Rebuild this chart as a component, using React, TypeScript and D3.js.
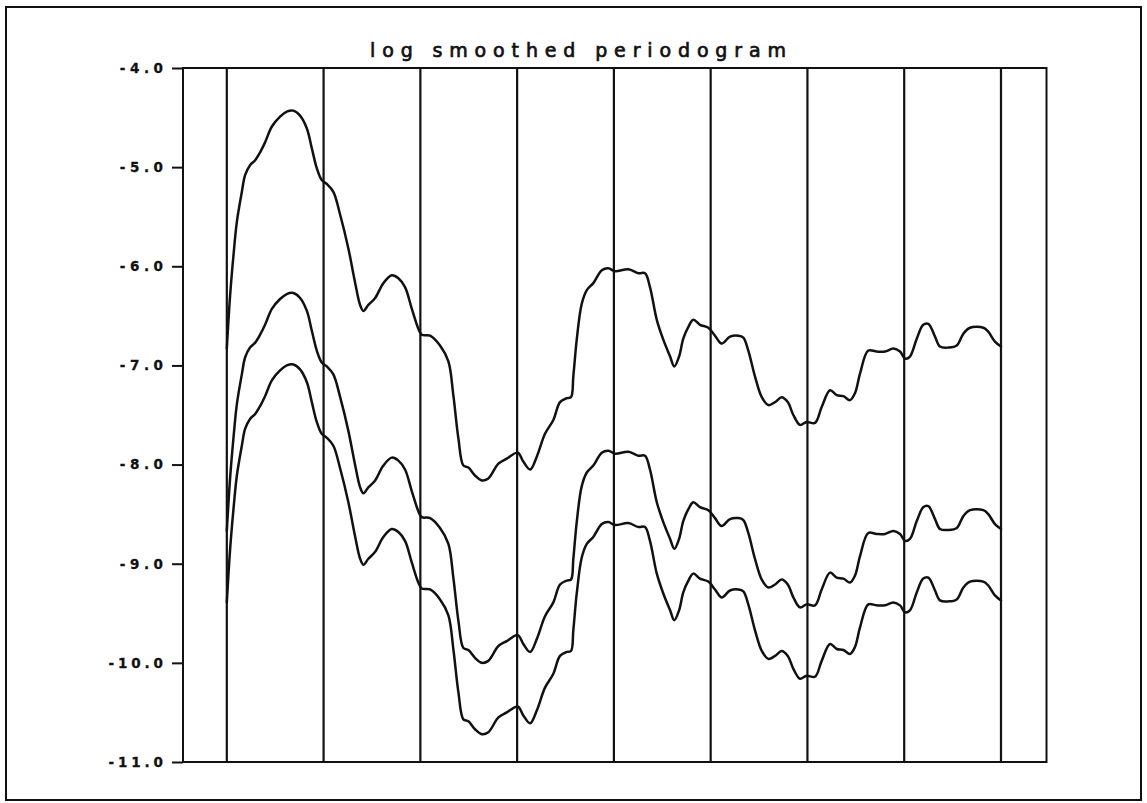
import React, { useEffect, useRef } from "react";
import * as d3 from "d3";

const WIDTH = 1147;
const HEIGHT = 803;

const title = "log smoothed periodogram";

// Frequency (cycles per sample)
const freq = [
  0.0, 0.0021, 0.0043, 0.0065, 0.0097, 0.0118, 0.015, 0.0183, 0.0215, 0.0247,
  0.0291, 0.0344, 0.0387, 0.043, 0.0473, 0.0517, 0.0549, 0.0581, 0.0613, 0.0646,
  0.0688, 0.0732, 0.0785, 0.0828, 0.0861, 0.0882, 0.0914, 0.0958, 0.1011, 0.1065,
  0.1108, 0.1151, 0.1195, 0.1237, 0.1259, 0.1313, 0.1377, 0.1431, 0.1463, 0.1496,
  0.1528, 0.156, 0.1603, 0.1647, 0.1689, 0.1754, 0.1808, 0.1879, 0.1915, 0.1959,
  0.2002, 0.2055, 0.2109, 0.2152, 0.2196, 0.2223, 0.2238, 0.226, 0.2292, 0.2325,
  0.2367, 0.2422, 0.2464, 0.2507, 0.2593, 0.2658, 0.2701, 0.2733, 0.2777, 0.2819,
  0.2863, 0.289, 0.2921, 0.2948, 0.2981, 0.3013, 0.3056, 0.311, 0.3153, 0.3196,
  0.325, 0.3304, 0.3336, 0.3368, 0.3411, 0.3455, 0.3497, 0.3541, 0.3584, 0.3623,
  0.3659, 0.3702, 0.3745, 0.3799, 0.3842, 0.3896, 0.3939, 0.3982, 0.4025, 0.4057,
  0.409, 0.4143, 0.4197, 0.4251, 0.4305, 0.4348, 0.438, 0.4412, 0.4456, 0.4498,
  0.4531, 0.4574, 0.4606, 0.466, 0.4714, 0.4757, 0.48, 0.4886, 0.4918, 0.4961,
  0.5,
];

// Upper confidence limit of the log spectrum
const upper = [
  -6.83, -6.3, -5.89, -5.55, -5.25, -5.08, -4.98, -4.93, -4.85, -4.75,
  -4.59, -4.49, -4.44, -4.43, -4.48, -4.61, -4.81, -5.01, -5.13, -5.17,
  -5.25, -5.48, -5.82, -6.16, -6.39, -6.45, -6.39, -6.32, -6.17, -6.09,
  -6.12, -6.21, -6.43, -6.63, -6.69, -6.7, -6.8, -6.96, -7.3, -7.74,
  -8.01, -8.03, -8.11, -8.16, -8.14, -7.99, -7.94, -7.88, -7.97, -8.05,
  -7.92, -7.69, -7.55, -7.37, -7.33, -7.32, -7.11, -6.74, -6.38, -6.24,
  -6.17, -6.04, -6.02, -6.05, -6.03, -6.07, -6.07, -6.21, -6.54, -6.74,
  -6.91, -7.01, -6.91, -6.73, -6.61, -6.54, -6.59, -6.62, -6.7, -6.78,
  -6.71, -6.7, -6.72, -6.85, -7.11, -7.32, -7.4, -7.37, -7.32, -7.37,
  -7.5, -7.6, -7.57, -7.58, -7.42, -7.25, -7.3, -7.31, -7.35, -7.28,
  -7.08, -6.85, -6.86, -6.86, -6.83, -6.86, -6.93, -6.91, -6.73, -6.59,
  -6.58, -6.71, -6.81, -6.82, -6.8, -6.68, -6.62, -6.62, -6.66, -6.76,
  -6.81,
];

// Smoothed log periodogram estimate
const estimate = [
  -8.67, -8.14, -7.73, -7.39, -7.09, -6.92, -6.82, -6.77, -6.69, -6.59,
  -6.43, -6.33, -6.28, -6.27, -6.32, -6.45, -6.65, -6.85, -6.97, -7.01,
  -7.09, -7.32, -7.66, -8.0, -8.23, -8.29, -8.23, -8.16, -8.01, -7.93,
  -7.96, -8.05, -8.27, -8.47, -8.53, -8.54, -8.64, -8.8, -9.14, -9.58,
  -9.85, -9.87, -9.95, -10.0, -9.98, -9.83, -9.78, -9.72, -9.81, -9.89,
  -9.76, -9.53, -9.39, -9.21, -9.17, -9.16, -8.95, -8.58, -8.22, -8.08,
  -8.01, -7.88, -7.86, -7.89, -7.87, -7.91, -7.91, -8.05, -8.38, -8.58,
  -8.75, -8.85, -8.75, -8.57, -8.45, -8.38, -8.43, -8.46, -8.54, -8.62,
  -8.55, -8.54, -8.56, -8.69, -8.95, -9.16, -9.24, -9.21, -9.16, -9.21,
  -9.34, -9.44, -9.41, -9.42, -9.26, -9.09, -9.14, -9.15, -9.19, -9.12,
  -8.92, -8.69, -8.7, -8.7, -8.67, -8.7, -8.77, -8.75, -8.57, -8.43,
  -8.42, -8.55, -8.65, -8.66, -8.64, -8.52, -8.46, -8.46, -8.5, -8.6,
  -8.65,
];

// Lower confidence limit of the log spectrum
const lower = [
  -9.39, -8.86, -8.45, -8.11, -7.81, -7.64, -7.54, -7.49, -7.41, -7.31,
  -7.15, -7.05, -7.0, -6.99, -7.04, -7.17, -7.37, -7.57, -7.69, -7.73,
  -7.81, -8.04, -8.38, -8.72, -8.95, -9.01, -8.95, -8.88, -8.73, -8.65,
  -8.68, -8.77, -8.99, -9.19, -9.25, -9.26, -9.36, -9.52, -9.86, -10.3,
  -10.57, -10.59, -10.67, -10.72, -10.7, -10.55, -10.5, -10.44, -10.53, -10.61,
  -10.48, -10.25, -10.11, -9.93, -9.89, -9.88, -9.67, -9.3, -8.94, -8.8,
  -8.73, -8.6, -8.58, -8.61, -8.59, -8.63, -8.63, -8.77, -9.1, -9.3,
  -9.47, -9.57, -9.47, -9.29, -9.17, -9.1, -9.15, -9.18, -9.26, -9.34,
  -9.27, -9.26, -9.28, -9.41, -9.67, -9.88, -9.96, -9.93, -9.88, -9.93,
  -10.06, -10.16, -10.13, -10.14, -9.98, -9.81, -9.86, -9.87, -9.91, -9.84,
  -9.64, -9.41, -9.42, -9.42, -9.39, -9.42, -9.49, -9.47, -9.29, -9.15,
  -9.14, -9.27, -9.37, -9.38, -9.36, -9.24, -9.18, -9.18, -9.22, -9.32,
  -9.37,
];

const yTicks = [-4, -5, -6, -7, -8, -9, -10, -11];

// Vertical guide lines, every 1/16 cycle per sample
const guideFreqs = [0, 0.0625, 0.125, 0.1875, 0.25, 0.3125, 0.375, 0.4375, 0.5];

const xDomain: [number, number] = [-0.0283, 0.5294];
const yDomain: [number, number] = [-11, -4];

const INK = "#111";

export default function App() {
  const axisRef = useRef<SVGGElement>(null);

  const plot = { left: 183, right: 1046.5, top: 68, bottom: 762 };
  const x = d3.scaleLinear().domain(xDomain).range([plot.left, plot.right]);
  const y = d3.scaleLinear().domain(yDomain).range([plot.bottom, plot.top]);

  const line = d3
    .line<number>()
    .x((i) => x(freq[i]))
    .curve(d3.curveCatmullRom.alpha(0.5));

  const pathFor = (vals: number[]) =>
    line.y((i) => y(vals[i]))(d3.range(vals.length)) || "";

  useEffect(() => {
    if (!axisRef.current) return;
    const g = d3.select(axisRef.current);
    g.selectAll("*").remove();
    g.call(
      d3
        .axisLeft(y)
        .tickValues(yTicks)
        .tickFormat((d) => (d as number).toFixed(1))
        .tickSize(11)
        .tickSizeOuter(0)
        .tickPadding(9)
    );
    g.select(".domain").remove();
    g.attr("font-family", "'DejaVu Sans', sans-serif")
      .attr("font-size", 13.5)
      .attr("font-weight", "bold");
    g.selectAll(".tick line").attr("stroke", INK).attr("stroke-width", 2);
    g.selectAll<SVGTextElement, number>(".tick text")
      .attr("fill", INK)
      .attr("stroke", INK)
      .attr("stroke-width", 0.3)
      .attr("textLength", function () {
        const s = this.textContent || "";
        return s.length * 11.3 - 2;
      })
      .attr("lengthAdjust", "spacing");
  }, []);

  return (
    <svg
      width={WIDTH}
      height={HEIGHT}
      style={{ position: "absolute", left: 0, top: 0, background: "#fff" }}
    >
      <rect x={0} y={0} width={WIDTH} height={HEIGHT} fill="#fff" />
      <rect
        x={6}
        y={7}
        width={1135}
        height={793}
        fill="none"
        stroke={INK}
        strokeWidth={2}
      />
      <text
        x={578}
        y={56.5}
        textAnchor="middle"
        fontFamily="'DejaVu Sans', sans-serif"
        fontSize={19}
        fill={INK}
        stroke={INK}
        strokeWidth={0.7}
        textLength={416}
        lengthAdjust="spacing"
      >
        {title}
      </text>
      <rect
        x={plot.left}
        y={plot.top}
        width={plot.right - plot.left}
        height={plot.bottom - plot.top}
        fill="none"
        stroke={INK}
        strokeWidth={2}
      />
      {guideFreqs.map((f) => (
        <line
          key={f}
          x1={x(f)}
          x2={x(f)}
          y1={plot.top}
          y2={plot.bottom}
          stroke={INK}
          strokeWidth={2.2}
        />
      ))}
      <g ref={axisRef} transform={`translate(${plot.left},0)`} />
      {[upper, estimate, lower].map((vals, k) => (
        <path
          key={k}
          d={pathFor(vals)}
          fill="none"
          stroke={INK}
          strokeWidth={2.5}
          strokeLinejoin="round"
          strokeLinecap="round"
        />
      ))}
    </svg>
  );
}
